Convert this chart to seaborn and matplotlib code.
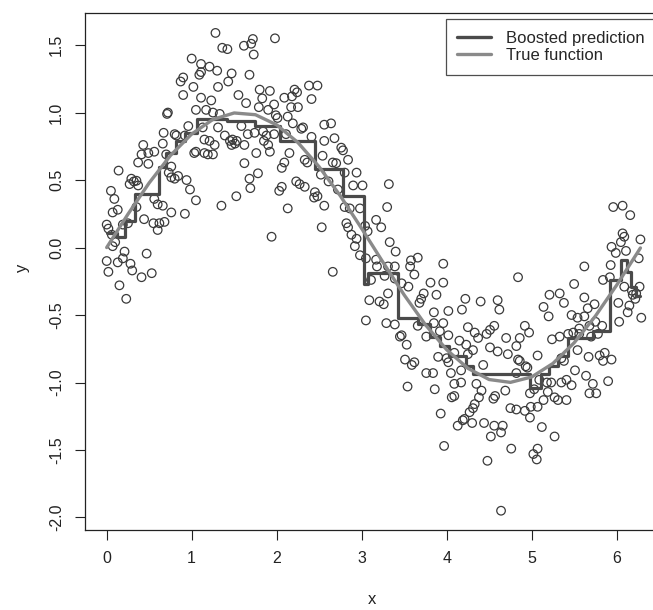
import matplotlib
matplotlib.use("Agg")
import matplotlib.pyplot as plt
import seaborn as sns
import pandas as pd
import numpy as np

# ---------------- data ----------------
pts_x = [
    1.28, 1.36, 1.42, 1.00, 1.11, 1.21, 1.11, 1.09, 1.30, 1.47, 0.90, 0.87, 1.02, 1.31, 1.43, 0.90,
    1.11, 1.23, 1.05, 0.72, 0.71, 1.17, 1.25, 1.33, 0.96, 1.13, 1.31, 1.39, 1.45, 1.47, 0.67, 0.80,
    0.82, 0.92, 1.15, 1.21, 1.27, 1.03, 1.05, 1.15, 1.19, 1.25, 0.43, 0.41, 0.49, 0.56, 0.37, 0.49,
    0.66, 0.70, 0.76, 0.73, 0.80, 0.76, 0.84, 0.94, 0.98, 1.05, 1.35, 0.14, 0.29, 0.32, 0.37, 0.35,
    0.27, 0.05, 0.09, 0.56, 0.60, 0.66, 0.76, 0.92, 0.07, 0.13, 0.35, 0.44, 0.55, 0.62, 0.68, 0.60,
    0.00, 0.02, 0.19, 0.25, 0.06, 0.10, 0.07, 0.21, 0.47, 0.00, 0.02, 0.13, 0.19, 0.28, 0.30, 0.41,
    0.53, 0.15, 0.23, 1.48, 1.51,
    1.72, 1.70, 1.615, 1.73, 1.98, 1.68, 1.55, 1.80, 1.92, 1.83, 1.64, 1.79, 1.90, 1.97, 2.09, 2.18,
    2.21, 2.24, 2.38, 2.48, 2.41, 2.17, 2.25, 2.13, 1.99, 2.01, 1.585, 1.66, 1.84, 1.88, 1.85, 1.74,
    1.97, 2.19, 2.31, 2.29, 2.56, 2.64, 2.11, 2.41, 2.56, 2.68, 1.53, 1.62, 1.90, 1.92, 1.76, 2.15,
    2.76, 2.78, 2.54, 1.62, 2.09, 2.06, 2.33, 2.36, 2.66, 2.70, 2.84, 1.78, 1.68, 1.69, 1.525, 2.23,
    2.27, 2.33, 2.06, 2.03, 2.45, 2.48, 2.44, 2.52, 2.61, 2.80, 2.94, 2.72, 2.90, 3.01, 2.13, 2.56,
    2.80, 2.86, 2.98, 2.53, 2.82, 2.84, 2.88, 2.94, 2.92, 3.04, 3.07, 2.98, 3.05, 1.94, 2.66, 3.09,
    3.05, 3.11,
    3.32, 3.30, 3.17, 3.23, 3.33, 3.40, 3.58, 3.66, 3.57, 3.62, 3.96, 3.17, 3.18, 3.31, 3.39, 3.27,
    3.39, 3.47, 3.55, 3.81, 3.96, 3.31, 3.21, 3.26, 3.73, 3.70, 3.68, 3.88, 3.85, 4.02, 4.18, 4.22,
    4.40, 4.60, 4.62,
    3.29, 3.39, 3.47, 3.45, 3.53, 3.51, 3.59, 3.62, 3.54, 3.76, 3.84, 3.86, 3.66, 3.76, 3.85, 3.96,
    3.92, 4.02, 3.90, 4.00, 4.02, 4.09, 4.15, 4.23, 4.25, 4.25, 4.33, 4.37, 4.31, 4.47, 4.51, 4.56,
    4.51, 4.60, 4.70, 4.72, 4.05, 4.17, 4.09, 4.17, 4.43, 4.35, 4.41, 4.38, 4.55, 4.57, 4.69, 4.06,
    4.09, 4.33, 4.31, 4.27, 3.93, 4.19, 4.21, 4.13, 4.30, 4.44, 4.56, 4.66, 4.64, 4.52, 4.75, 4.76,
    3.97, 4.48, 4.64,
    5.96, 6.07, 6.16, 6.28, 6.07, 6.09, 6.05, 5.94, 5.99, 6.11, 5.62, 5.93, 6.26, 5.84, 5.92, 5.50,
    6.09, 6.18, 6.27, 6.19, 6.22, 6.23, 5.21, 5.33, 5.62, 5.38, 5.14, 5.74, 5.66, 6.15, 6.13, 6.02,
    5.20, 5.47, 5.54, 6.29, 6.03, 4.84, 5.62, 5.75, 5.83, 5.68, 5.56, 5.49, 5.43, 5.33, 5.24, 5.56,
    5.70, 5.78, 4.92, 4.97, 4.86, 4.82, 5.07, 4.84, 4.86, 4.93, 4.95, 4.82, 5.35, 5.38, 5.54, 5.67,
    5.86, 5.80, 5.84, 5.94, 5.51, 5.64, 5.90, 5.35, 5.41, 5.47, 5.23, 5.09, 5.18, 5.72, 5.68, 5.76,
    5.03, 4.98, 5.19, 5.27, 5.31, 5.41, 5.14, 5.07, 4.99, 4.92, 4.82, 4.98, 5.12, 5.27, 5.07, 5.02,
    5.06,
]
pts_y = [
    1.59, 1.48, 1.47, 1.40, 1.36, 1.34, 1.30, 1.28, 1.31, 1.29, 1.26, 1.23, 1.19, 1.19, 1.23, 1.13,
    1.11, 1.09, 1.02, 1.00, 0.99, 1.02, 1.00, 0.99, 0.90, 0.89, 0.89, 0.83, 0.79, 0.76, 0.85, 0.84,
    0.83, 0.83, 0.80, 0.79, 0.76, 0.70, 0.71, 0.70, 0.69, 0.69, 0.76, 0.69, 0.70, 0.71, 0.63, 0.62,
    0.77, 0.69, 0.60, 0.555, 0.51, 0.52, 0.53, 0.50, 0.43, 0.35, 0.31, 0.57, 0.51, 0.49, 0.46, 0.495,
    0.47, 0.42, 0.36, 0.36, 0.32, 0.31, 0.26, 0.25, 0.26, 0.28, 0.30, 0.21, 0.18, 0.18, 0.19, 0.13,
    0.17, 0.14, 0.17, 0.18, 0.095, 0.04, 0.01, -0.03, -0.045, -0.10, -0.18, -0.11, -0.08, -0.12, -0.17, -0.22,
    -0.19, -0.28, -0.38, 0.80, 0.77,
    1.545, 1.51, 1.495, 1.43, 1.55, 1.28, 1.13, 1.17, 1.16, 1.105, 1.07, 1.04, 1.02, 1.06, 1.11, 1.12,
    1.17, 1.15, 1.20, 1.20, 1.10, 1.04, 1.04, 0.97, 0.98, 0.96, 0.90, 0.84, 0.86, 0.83, 0.79, 0.85,
    0.84, 0.92, 0.89, 0.88, 0.91, 0.92, 0.84, 0.82, 0.79, 0.81, 0.79, 0.76, 0.76, 0.71, 0.70, 0.70,
    0.74, 0.72, 0.68, 0.625, 0.63, 0.59, 0.65, 0.63, 0.63, 0.625, 0.65, 0.55, 0.51, 0.44, 0.38, 0.49,
    0.47, 0.45, 0.45, 0.42, 0.41, 0.38, 0.37, 0.54, 0.49, 0.555, 0.555, 0.43, 0.46, 0.46, 0.29, 0.31,
    0.30, 0.29, 0.29, 0.15, 0.18, 0.15, 0.095, 0.065, 0.01, 0.16, 0.12, -0.057, -0.08, 0.08, -0.18, -0.39,
    -0.54, -0.24,
    0.47, 0.30, 0.205, 0.15, 0.04, -0.03, -0.095, -0.075, -0.14, -0.20, -0.12, -0.09, -0.14, -0.14, -0.14, -0.21,
    -0.23, -0.265, -0.29, -0.26, -0.26, -0.34, -0.40, -0.42, -0.34, -0.38, -0.41, -0.35, -0.48, -0.47, -0.46, -0.38,
    -0.40, -0.39, -0.46,
    -0.56, -0.57, -0.65, -0.66, -0.72, -0.83, -0.87, -0.85, -1.03, -0.93, -0.93, -1.05, -0.58, -0.66, -0.56, -0.56,
    -0.62, -0.65, -0.81, -0.82, -0.85, -0.78, -0.69, -0.72, -0.79, -0.59, -0.63, -0.67, -0.76, -0.64, -0.61, -0.58,
    -0.74, -0.77, -0.67, -0.79, -0.93, -0.91, -1.01, -1.00, -0.87, -1.01, -1.06, -1.11, -1.12, -1.10, -1.06, -1.11,
    -1.10, -1.16, -1.19, -1.22, -1.23, -1.28, -1.27, -1.32, -1.30, -1.30, -1.32, -1.32, -1.37, -1.40, -1.19, -1.49,
    -1.47, -1.58, -1.95,
    0.30, 0.31, 0.24, 0.06, 0.105, 0.08, 0.04, 0.005, -0.04, -0.025, -0.14, -0.13, -0.08, -0.24, -0.22, -0.27,
    -0.29, -0.32, -0.29, -0.35, -0.38, -0.34, -0.35, -0.34, -0.37, -0.41, -0.44, -0.42, -0.45, -0.43, -0.48, -0.41,
    -0.51, -0.50, -0.52, -0.52, -0.55, -0.22, -0.51, -0.55, -0.58, -0.58, -0.60, -0.63, -0.64, -0.66, -0.68, -0.64,
    -0.66, -0.64, -0.58, -0.63, -0.67, -0.73, -0.80, -0.83, -0.84, -0.88, -0.89, -0.93, -0.82, -0.84, -0.76, -0.81,
    -0.78, -0.80, -0.84, -0.83, -0.91, -0.95, -0.99, -1.00, -0.98, -1.02, -1.00, -0.98, -1.00, -1.01, -1.08, -1.08,
    -1.05, -1.08, -1.07, -1.11, -1.13, -1.13, -1.13, -1.18, -1.18, -1.21, -1.20, -1.26, -1.33, -1.40, -1.49, -1.53,
    -1.57,
]

# boosted prediction: step start positions and the level held from each one
step_x = [0.00, 0.12, 0.21, 0.33, 0.62, 0.70, 0.82, 0.92, 1.06, 1.41, 1.74, 2.04, 2.45, 2.78,
          3.03, 3.07, 3.43, 3.66, 3.80, 3.92, 4.03, 4.23, 4.31, 4.98, 5.11, 5.20, 5.31, 5.43,
          5.72, 5.92, 6.05, 6.12, 6.17, 6.23, 6.28]
step_y = [0.11, 0.08, 0.20, 0.40, 0.60, 0.70, 0.79, 0.85, 0.95, 0.935, 0.90, 0.79, 0.58, 0.38,
          -0.27, -0.19, -0.52, -0.57, -0.66, -0.73, -0.80, -0.88, -0.94, -1.04, -0.94, -0.88, -0.80, -0.67,
          -0.62, -0.24, -0.09, -0.18, -0.29, -0.36, -0.36]

# true function
true_x = [0.00, 0.25, 0.50, 0.75, 1.00, 1.25, 1.50, 1.75, 2.00, 2.25, 2.50, 2.75, 3.00, 3.25,
          3.50, 3.75, 4.00, 4.25, 4.50, 4.75, 5.00, 5.25, 5.50, 5.75, 6.00, 6.25, 6.28]
true_y = [0.000, 0.247, 0.479, 0.682, 0.841, 0.949, 0.997, 0.984, 0.909, 0.778, 0.598, 0.382, 0.141, -0.108,
          -0.351, -0.572, -0.757, -0.895, -0.978, -0.999, -0.959, -0.859, -0.706, -0.508, -0.279, -0.033, -0.003]

x_ticks = [0, 1, 2, 3, 4, 5, 6]
y_ticks = [-2.0, -1.5, -1.0, -0.5, 0.0, 0.5, 1.0, 1.5]
y_tick_labels = ["-2.0", "-1.5", "-1.0", "-0.5", "0.0", "0.5", "1.0", "1.5"]
legend_labels = ["Boosted prediction", "True function"]

# ---------------- drawing ----------------
sns.set_theme(style="white")
plt.rcParams["font.family"] = ["Liberation Sans", "DejaVu Sans"]
plt.rcParams["axes.unicode_minus"] = False

fig = plt.figure(figsize=(6.53, 6.10), dpi=100)
ax = fig.add_axes([0.1302, 0.1311, 0.8836, 0.847])

pts = pd.DataFrame({"x": pts_x, "y": pts_y})
sns.scatterplot(data=pts, x="x", y="y", ax=ax, marker="o", s=38,
                facecolors="none", edgecolor="#3a3a3a", linewidth=0.9, zorder=2)

steps = pd.DataFrame({"x": step_x, "y": step_y})
sns.lineplot(data=steps, x="x", y="y", ax=ax, drawstyle="steps-post", color="#4a4a4a",
             linewidth=2.3, estimator=None, sort=False, zorder=3, label=legend_labels[0])

truth = pd.DataFrame({"x": true_x, "y": true_y})
sns.lineplot(data=truth, x="x", y="y", ax=ax, color="#8a8a8a", linewidth=2.4,
             estimator=None, sort=False, zorder=4, label=legend_labels[1])

ax.set_xlim(-0.255, 6.534)
ax.set_ylim(-2.093, 1.735)
ax.set_xticks(x_ticks)
ax.set_xticklabels([str(t) for t in x_ticks])
ax.set_yticks(y_ticks)
ax.set_yticklabels(y_tick_labels, rotation=90, va="center")

ax.tick_params(axis="both", which="major", direction="out", length=7.5, width=0.8,
               color="#222222", labelsize=11.5, labelcolor="#222222", pad=7.5,
               bottom=True, left=True)
for sp in ax.spines.values():
    sp.set_color("#222222")
    sp.set_linewidth(0.9)

ax.set_xlabel("x", fontsize=12, color="#222222")
ax.set_ylabel("y", fontsize=12, color="#222222")
ax.xaxis.set_label_coords(0.497, -0.12)
ax.yaxis.set_label_coords(-0.096, 0.507)

leg = ax.legend(loc="upper right", bbox_to_anchor=(0.9896, 0.989), borderaxespad=0,
                fontsize=12, frameon=True, fancybox=False, handlelength=2.0,
                handletextpad=0.9, labelspacing=0.15, borderpad=0.7)
leg.get_frame().set_edgecolor("#222222")
leg.get_frame().set_linewidth(0.9)
for line in leg.get_lines():
    line.set_linewidth(2.4)

fig.savefig("out.png", dpi=100)
